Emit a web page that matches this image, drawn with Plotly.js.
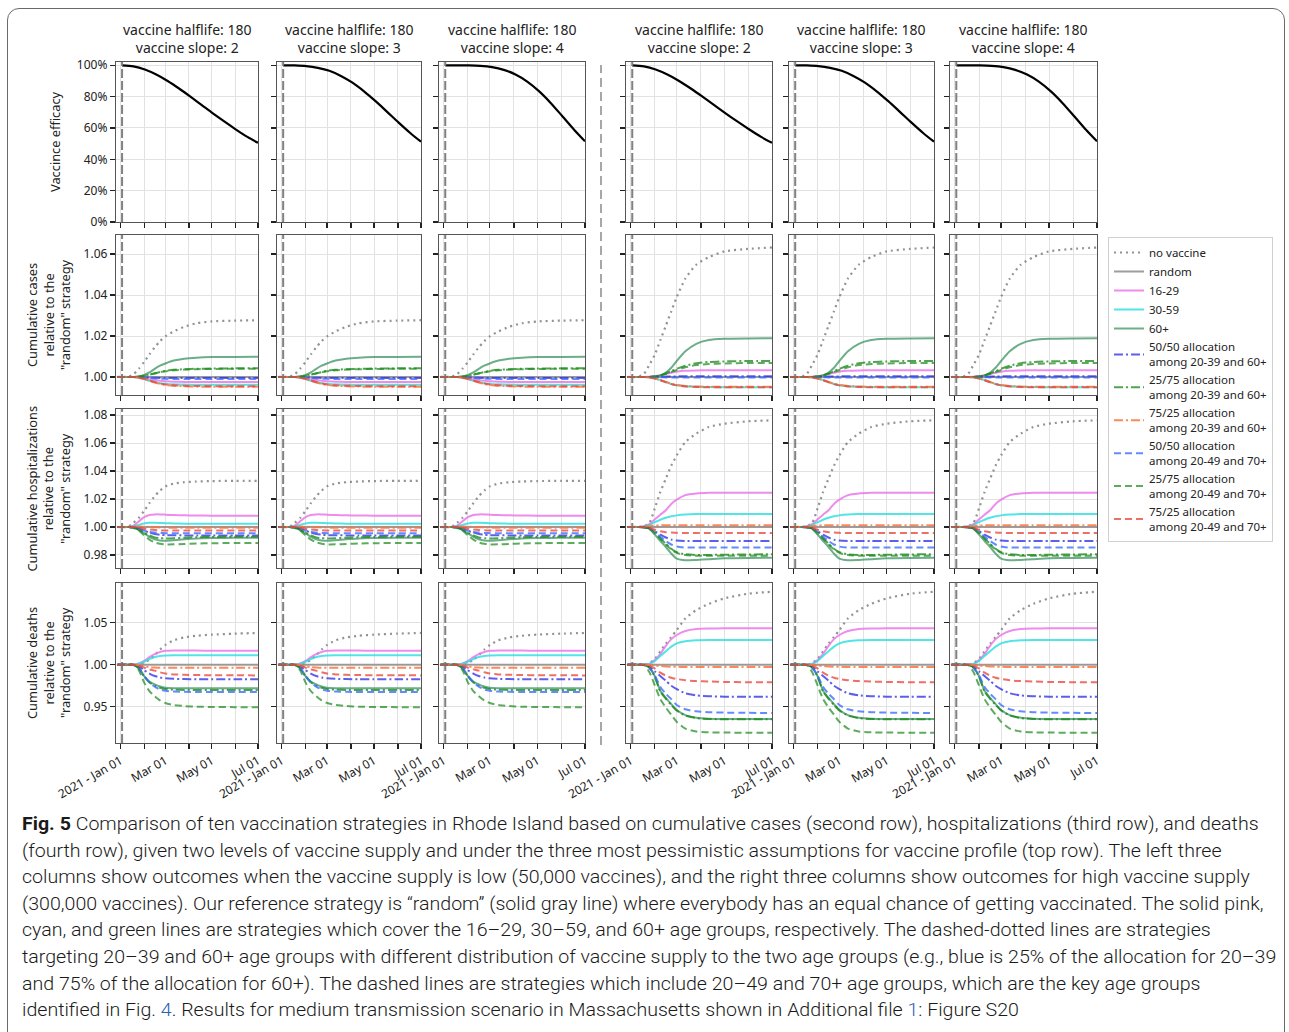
<!DOCTYPE html>
<html>
<head>
<meta charset="utf-8">
<script src="https://cdn.plot.ly/plotly-3.0.1.min.js"></script>
<style>
  html,body{margin:0;padding:0;background:#fff;}
  body{width:1289px;height:1032px;overflow:hidden;position:relative;}
  #plot{position:absolute;left:0;top:0;width:1289px;height:800px;}
  #frame{position:absolute;left:7px;top:8px;width:1276px;height:1060px;border:1px solid #6a6a6a;border-radius:12px;pointer-events:none;}
  #caption{position:absolute;left:22px;top:811px;font-family:Roboto,"Noto Sans",sans-serif;font-weight:300;font-size:19px;line-height:26.6px;color:#1a1a1a;white-space:nowrap;transform-origin:0 0;}
  #caption b{font-weight:700;}
  #caption .lnk{color:#2b5fb4;}
</style>
</head>
<body>
<div id="plot"></div>
<div id="frame"></div>
<div id="caption">
  <div class="ln"><b>Fig. 5</b> Comparison of ten vaccination strategies in Rhode Island based on cumulative cases (second row), hospitalizations (third row), and deaths</div>
  <div class="ln">(fourth row), given two levels of vaccine supply and under the three most pessimistic assumptions for vaccine profile (top row). The left three</div>
  <div class="ln">columns show outcomes when the vaccine supply is low (50,000 vaccines), and the right three columns show outcomes for high vaccine supply</div>
  <div class="ln">(300,000 vaccines). Our reference strategy is “random” (solid gray line) where everybody has an equal chance of getting vaccinated. The solid pink,</div>
  <div class="ln">cyan, and green lines are strategies which cover the 16–29, 30–59, and 60+ age groups, respectively. The dashed-dotted lines are strategies</div>
  <div class="ln" id="fitline">targeting 20–39 and 60+ age groups with different distribution of vaccine supply to the two age groups (e.g., blue is 25% of the allocation for 20–39</div>
  <div class="ln">and 75% of the allocation for 60+). The dashed lines are strategies which include 20–49 and 70+ age groups, which are the key age groups</div>
  <div class="ln">identified in Fig. <span class="lnk">4</span>. Results for medium transmission scenario in Massachusetts shown in Additional file <span class="lnk">1</span>: Figure S20</div>
</div>
<script>
// ---------------- DATA ----------------
const COL_SLOPES = [2, 3, 4, 2, 3, 4];
const HALFLIFE = 180;

// sample dates for outcome curves (rows 2-4)
const DATES = ['2020-12-28','2021-01-11','2021-01-18','2021-01-25','2021-02-01','2021-02-08','2021-02-15',
               '2021-02-22','2021-03-01','2021-03-12','2021-03-26','2021-04-11','2021-05-01','2021-05-31','2021-07-01'];

// vaccine efficacy (row 1)
const EFF_DATES = ['2021-01-03','2021-01-18','2021-02-02','2021-02-17','2021-03-04','2021-03-19','2021-04-03',
                   '2021-04-18','2021-05-03','2021-05-18','2021-06-02','2021-06-17','2021-07-01'];
const EFF_SLOPE2 = [1.000,0.993,0.973,0.941,0.900,0.852,0.800,0.746,0.692,0.640,0.590,0.543,0.505];
const EFF_SLOPE3 = [1.000,0.999,0.995,0.984,0.965,0.932,0.889,0.834,0.771,0.703,0.634,0.568,0.512];
const EFF_SLOPE4 = [1.000,1.000,0.999,0.996,0.988,0.971,0.941,0.896,0.835,0.760,0.675,0.589,0.515];

const SERIES_NAMES = ['no vaccine','random','16-29','30-59','60+',
  '50/50 allocation<br>among 20-39 and 60+','25/75 allocation<br>among 20-39 and 60+','75/25 allocation<br>among 20-39 and 60+',
  '50/50 allocation<br>among 20-49 and 70+','25/75 allocation<br>among 20-49 and 70+','75/25 allocation<br>among 20-49 and 70+'];

// order of each block: no vaccine, random, 16-29, 30-59, 60+, 50/50 A, 25/75 A, 75/25 A, 50/50 B, 25/75 B, 75/25 B
const CASES_LOW = [
  [1.0000,1.0002,1.0013,1.0040,1.0073,1.0110,1.0145,1.0175,1.0198,1.0222,1.0245,1.0262,1.0271,1.0275,1.0277],
  [1,1,1,1,1,1,1,1,1,1,1,1,1,1,1],
  [1,1,1,0.9998,0.9993,0.9988,0.9984,0.9981,0.9979,0.9977,0.9976,0.9976,0.9976,0.9976,0.9976],
  [1,1,1,0.9997,0.9990,0.9981,0.9975,0.9970,0.9967,0.9964,0.9963,0.9962,0.9962,0.9962,0.9962],
  [1,1,1,1.0002,1.0010,1.0022,1.0040,1.0055,1.0066,1.0080,1.0089,1.0094,1.0097,1.0098,1.0099],
  [1,1,1,0.9999,0.9998,0.9997,0.9996,0.9995,0.9995,0.9995,0.9995,0.9995,0.9995,0.9995,0.9995],
  [1,1,1,1.0002,1.0006,1.0012,1.0018,1.0024,1.0030,1.0035,1.0038,1.0040,1.0041,1.0042,1.0042],
  [1,1,1,0.9996,0.9990,0.9981,0.9973,0.9966,0.9961,0.9957,0.9955,0.9953,0.9952,0.9952,0.9952],
  [1,1,1,0.9999,0.9997,0.9995,0.9993,0.9992,0.9991,0.9990,0.9990,0.9990,0.9990,0.9990,0.9990],
  [1,1,1,1.0001,1.0005,1.0011,1.0017,1.0023,1.0028,1.0033,1.0036,1.0038,1.0039,1.0040,1.0040],
  [1,1,1,0.9997,0.9991,0.9983,0.9975,0.9968,0.9963,0.9959,0.9957,0.9956,0.9955,0.9955,0.9955]
];
const CASES_HIGH = [
  [1.0000,1.0001,1.0015,1.0060,1.0110,1.0180,1.0250,1.0320,1.0390,1.0480,1.0548,1.0585,1.0613,1.0625,1.0632],
  [1,1,1,1,1,1,1,1,1,1,1,1,1,1,1],
  [1,1,1,1.0001,1.0004,1.0009,1.0015,1.0021,1.0026,1.0030,1.0032,1.0033,1.0033,1.0033,1.0033],
  [1,1,1,0.9998,0.9993,0.9985,0.9975,0.9966,0.9960,0.9955,0.9952,0.9951,0.9950,0.9950,0.9950],
  [1,1,1,1.0000,1.0003,1.0008,1.0022,1.0045,1.0078,1.0125,1.0162,1.0180,1.0186,1.0188,1.0189],
  [1,1,1,1,1.0001,1.0001,1.0002,1.0002,1.0003,1.0003,1.0003,1.0003,1.0003,1.0003,1.0003],
  [1,1,1,1,1.0002,1.0008,1.0017,1.0028,1.0040,1.0055,1.0067,1.0073,1.0076,1.0078,1.0078],
  [1,1,1,0.9998,0.9993,0.9985,0.9976,0.9967,0.9961,0.9956,0.9953,0.9952,0.9952,0.9952,0.9952],
  [1,1,1,1,0.9999,0.9999,0.9998,0.9998,0.9998,0.9998,0.9998,0.9998,0.9998,0.9998,0.9998],
  [1,1,1,1,1.0002,1.0007,1.0015,1.0024,1.0034,1.0047,1.0058,1.0063,1.0066,1.0068,1.0068],
  [1,1,1,0.9998,0.9992,0.9984,0.9974,0.9965,0.9959,0.9954,0.9951,0.9950,0.9950,0.9950,0.9950]
];
const HOSP_LOW = [
  [1.0000,1.0001,1.0030,1.0065,1.0115,1.0170,1.0220,1.0260,1.0290,1.0310,1.0320,1.0325,1.0328,1.0330,1.0330],
  [1,1,1,1,1,1,1,1,1,1,1,1,1,1,1],
  [1,1,1.0010,1.0040,1.0070,1.0085,1.0090,1.0090,1.0088,1.0085,1.0083,1.0082,1.0081,1.0081,1.0081],
  [1,1,1.0005,1.0015,1.0025,1.0030,1.0030,1.0029,1.0027,1.0025,1.0024,1.0024,1.0024,1.0024,1.0024],
  [1,1,0.9995,0.9980,0.9955,0.9930,0.9912,0.9903,0.9901,0.9905,0.9912,0.9918,0.9921,0.9923,0.9924],
  [1,1,0.9997,0.9990,0.9975,0.9960,0.9950,0.9945,0.9942,0.9941,0.9940,0.9940,0.9940,0.9940,0.9940],
  [1,1,0.9995,0.9980,0.9960,0.9940,0.9925,0.9920,0.9918,0.9920,0.9924,0.9927,0.9929,0.9930,0.9930],
  [1,1,1.0003,1.0004,1.0002,1.0000,0.9998,0.9997,0.9996,0.9995,0.9995,0.9995,0.9995,0.9995,0.9995],
  [1,1,0.9997,0.9988,0.9975,0.9965,0.9960,0.9957,0.9956,0.9955,0.9955,0.9955,0.9955,0.9955,0.9955],
  [1,1,0.9993,0.9975,0.9940,0.9910,0.9890,0.9880,0.9876,0.9876,0.9879,0.9882,0.9884,0.9886,0.9886],
  [1,1,1.0000,0.9995,0.9988,0.9982,0.9978,0.9976,0.9975,0.9975,0.9975,0.9975,0.9975,0.9975,0.9975]
];
const HOSP_HIGH = [
  [1.0000,1.0001,1.0005,1.0030,1.0135,1.0250,1.0345,1.0438,1.0512,1.0607,1.0667,1.0714,1.0738,1.0755,1.0762],
  [1,1,1,1,1,1,1,1,1,1,1,1,1,1,1],
  [1,1,1.0005,1.0020,1.0055,1.0088,1.0120,1.0165,1.0195,1.0228,1.0240,1.0244,1.0245,1.0245,1.0245],
  [1,1,1.0003,1.0015,1.0035,1.0052,1.0066,1.0076,1.0083,1.0089,1.0092,1.0093,1.0093,1.0093,1.0093],
  [1,1,0.9998,0.9988,0.9945,0.9900,0.9857,0.9810,0.9774,0.9762,0.9765,0.9770,0.9776,0.9779,0.9780],
  [1,1,0.9998,0.9990,0.9970,0.9945,0.9925,0.9910,0.9903,0.9900,0.9900,0.9900,0.9900,0.9900,0.9900],
  [1,1,0.9998,0.9990,0.9960,0.9920,0.9880,0.9845,0.9820,0.9805,0.9800,0.9800,0.9802,0.9804,0.9805],
  [1,1,1.0002,1.0006,1.0010,1.0012,1.0012,1.0012,1.0012,1.0012,1.0012,1.0012,1.0012,1.0012,1.0012],
  [1,1,0.9998,0.9990,0.9965,0.9930,0.9900,0.9875,0.9860,0.9853,0.9853,0.9853,0.9853,0.9853,0.9853],
  [1,1,0.9997,0.9985,0.9955,0.9915,0.9875,0.9840,0.9815,0.9800,0.9795,0.9795,0.9795,0.9795,0.9795],
  [1,1,0.9999,0.9993,0.9980,0.9970,0.9963,0.9960,0.9958,0.9957,0.9957,0.9957,0.9957,0.9957,0.9957]
];
const DEATHS_LOW = [
  [1,1,1,1.0005,1.0020,1.0060,1.0115,1.0180,1.0235,1.0290,1.0325,1.0345,1.0358,1.0370,1.0378],
  [1,1,1,1,1,1,1,1,1,1,1,1,1,1,1],
  [1,1,1,1.0015,1.0045,1.0090,1.0127,1.0152,1.0165,1.0170,1.0170,1.0168,1.0167,1.0167,1.0167],
  [1,1,1,1.0010,1.0035,1.0068,1.0092,1.0105,1.0110,1.0112,1.0112,1.0112,1.0112,1.0112,1.0112],
  [1,1,1,0.9960,0.9865,0.9800,0.9765,0.9740,0.9725,0.9720,0.9719,0.9719,0.9719,0.9719,0.9719],
  [1,1,1,0.9980,0.9935,0.9895,0.9865,0.9848,0.9838,0.9832,0.9829,0.9827,0.9826,0.9826,0.9826],
  [1,1,1,0.9958,0.9860,0.9790,0.9750,0.9725,0.9710,0.9703,0.9700,0.9700,0.9700,0.9700,0.9700],
  [1,1,1,0.9995,0.9980,0.9970,0.9966,0.9964,0.9964,0.9964,0.9964,0.9964,0.9964,0.9964,0.9964],
  [1,1,1,0.9960,0.9870,0.9790,0.9740,0.9705,0.9690,0.9680,0.9677,0.9676,0.9675,0.9675,0.9675],
  [1,1,1,0.9935,0.9790,0.9685,0.9625,0.9575,0.9545,0.9520,0.9508,0.9500,0.9497,0.9495,0.9493],
  [1,1,1,0.9990,0.9965,0.9945,0.9930,0.9910,0.9895,0.9885,0.9880,0.9877,0.9875,0.9874,0.9873]
];
const DEATHS_HIGH = [
  [1,1,1,1.0020,1.0070,1.0160,1.0250,1.0330,1.0413,1.0552,1.0650,1.0725,1.0790,1.0845,1.0869],
  [1,1,1,1,1,1,1,1,1,1,1,1,1,1,1],
  [1,1,1,1.0010,1.0055,1.0130,1.0225,1.0305,1.0354,1.0401,1.0425,1.0431,1.0433,1.0433,1.0433],
  [1,1,1,1.0010,1.0045,1.0105,1.0160,1.0215,1.0255,1.0280,1.0290,1.0293,1.0294,1.0294,1.0294],
  [1,1,1,0.9970,0.9860,0.9690,0.9605,0.9530,0.9460,0.9400,0.9370,0.9358,0.9355,0.9354,0.9354],
  [1,1,1,0.9975,0.9920,0.9865,0.9810,0.9750,0.9710,0.9660,0.9635,0.9625,0.9620,0.9619,0.9619],
  [1,1,1,0.9968,0.9855,0.9680,0.9595,0.9522,0.9455,0.9395,0.9365,0.9354,0.9351,0.9350,0.9350],
  [1,1,1,0.9997,0.9990,0.9985,0.9980,0.9977,0.9975,0.9973,0.9972,0.9972,0.9972,0.9972,0.9972],
  [1,1,1,0.9960,0.9870,0.9735,0.9655,0.9590,0.9520,0.9469,0.9445,0.9435,0.9430,0.9427,0.9425],
  [1,1,0.9995,0.9910,0.9750,0.9590,0.9490,0.9405,0.9320,0.9240,0.9205,0.9195,0.9192,0.9191,0.9190],
  [1,1,1,0.9985,0.9955,0.9905,0.9870,0.9845,0.9830,0.9815,0.9805,0.9800,0.9795,0.9792,0.9790]
];

const X_TICKVALS = ['2021-01-01','2021-02-01','2021-03-01','2021-04-01','2021-05-01','2021-06-01','2021-07-01'];
const X_TICKTEXT = ['2021 - Jan 01','','Mar 01','','May 01','','Jul 01'];
const VACCINE_START = '2021-01-03';

const ROW_TITLES = ['Vaccince efficacy',
  'Cumulative cases<br>relative to the<br>"random" strategy',
  'Cumulative hospitalizations<br>relative to the<br>"random" strategy',
  'Cumulative deaths<br>relative to the<br>"random" strategy'];
const Y_TICKS = [[0,0.2,0.4,0.6,0.8,1.0],[1.00,1.02,1.04,1.06],[0.98,1.00,1.02,1.04,1.06,1.08],[0.95,1.00,1.05]];

// ---------------- STYLE ----------------
const SERIES_COLORS = ['rgba(128,128,128,0.85)','rgba(140,140,140,0.85)','rgba(235,120,235,0.85)','rgba(40,222,222,0.8)',
  'rgba(46,139,87,0.7)','rgba(40,40,230,0.75)','rgba(20,135,20,0.75)','rgba(255,115,60,0.85)',
  'rgba(60,110,255,0.8)','rgba(30,140,30,0.72)','rgba(235,70,60,0.78)'];
const SERIES_DASH = ['2px,4px','solid','solid','solid','solid','9px,3px,2px,3px','9px,3px,2px,3px','9px,3px,2px,3px','7px,4px','7px,4px','7px,4px'];
const SERIES_WIDTH = [2.2,2,2,2,2,2,2,2,2,2,2];

const FONT = '"Noto Sans","Open Sans",sans-serif';
const W = 1289, H = 800;
const COLS_PX = [[116,258],[277,421],[439,585],[626,772],[789,934],[950,1097]];
const ROWS_PX = [[62,222],[235,395],[409,568],[583,743]];
const Y_RANGES = [[0,1.021],[0.9912,1.0693],[0.9707,1.0843],[0.9068,1.0973]];
const X_RANGE = ['2020-12-26','2021-07-01'];

const ROW_DATA = [null,[CASES_LOW,CASES_HIGH],[HOSP_LOW,HOSP_HIGH],[DEATHS_LOW,DEATHS_HIGH]];
const EFF = [EFF_SLOPE2,EFF_SLOPE3,EFF_SLOPE4];

const traces = [];
const layout = {
  width: W, height: H, margin:{l:0,r:0,t:0,b:0},
  paper_bgcolor:'rgba(0,0,0,0)', plot_bgcolor:'#ffffff',
  font:{family:FONT,size:11,color:'#222'},
  showlegend:true,
  legend:{x:1108/W, y:1-237/H, xanchor:'left', yanchor:'top', bgcolor:'#fff', bordercolor:'#d0d0d0', borderwidth:1,
          font:{family:FONT,size:11.5,color:'#222'}, itemwidth:30, tracegroupgap:0},
  annotations:[], shapes:[]
};

function axName(k){ return k===1 ? '' : String(k); }

for (let r=0;r<4;r++){
  for (let c=0;c<6;c++){
    const k = r*6+c+1;
    const xa = 'x'+axName(k), ya = 'y'+axName(k);
    layout['xaxis'+axName(k)] = {
      domain:[COLS_PX[c][0]/W, COLS_PX[c][1]/W], anchor:ya, type:'date', range:X_RANGE,
      tickmode:'array', tickvals:X_TICKVALS, ticktext:X_TICKTEXT, showticklabels:r===3, tickangle:-30,
      ticks:'outside', ticklen:5, tickwidth:1.2, tickcolor:'#222', showline:true, mirror:true, linecolor:'#555', linewidth:1.2,
      showgrid:true, gridcolor:'#e2e2e2', gridwidth:1, zeroline:false, tickfont:{size:12,color:'#222'}
    };
    layout['yaxis'+axName(k)] = {
      domain:[1-ROWS_PX[r][1]/H, 1-ROWS_PX[r][0]/H], anchor:xa, range:Y_RANGES[r],
      tickmode:'array', tickvals:Y_TICKS[r], tickformat: r===0 ? '.0%' : '.2f', showticklabels:c===0,
      ticks:'outside', ticklen:5, tickwidth:1.2, tickcolor:'#222', showline:true, mirror:true, linecolor:'#555', linewidth:1.2,
      showgrid:true, gridcolor:'#e2e2e2', gridwidth:1, zeroline:false, tickfont:{size:12,color:'#222'}
    };
    // vaccination start line
    layout.shapes.push({type:'line', xref:xa, yref:ya+' domain', x0:VACCINE_START, x1:VACCINE_START, y0:0, y1:1,
      line:{color:'rgba(115,115,115,0.9)', width:2, dash:'9px,3px'}, layer:'above'});
    if (r===0){
      traces.push({type:'scatter', mode:'lines', x:EFF_DATES, y:EFF[c%3], xaxis:xa, yaxis:ya, showlegend:false,
        line:{color:'#000', width:2.2, shape:'spline', smoothing:0.8}, hoverinfo:'skip'});
    } else {
      const block = ROW_DATA[r][c<3?0:1];
      for (let s=0;s<SERIES_NAMES.length;s++){
        traces.push({type:'scatter', mode:'lines', x:DATES, y:block[s], xaxis:xa, yaxis:ya,
          name:SERIES_NAMES[s], legendgroup:'s'+s, showlegend:(r===1 && c===0),
          line:{color:SERIES_COLORS[s], width:SERIES_WIDTH[s], dash:SERIES_DASH[s], shape:'spline', smoothing:0.6},
          hoverinfo:'skip'});
      }
    }
  }
}

// column titles
for (let c=0;c<6;c++){
  layout.annotations.push({xref:'paper', yref:'paper', x:(COLS_PX[c][0]+COLS_PX[c][1])/2/W, y:1-39/H,
    xanchor:'center', yanchor:'middle', showarrow:false,
    text:'vaccine halflife: '+HALFLIFE+'<br>vaccine slope: '+COL_SLOPES[c], font:{family:FONT,size:14,color:'#222'}});
}
// row titles
const ROW_TITLE_X = [55,48,48,48];
for (let r=0;r<4;r++){
  layout.annotations.push({xref:'paper', yref:'paper', x:ROW_TITLE_X[r]/W, y:1-((ROWS_PX[r][0]+ROWS_PX[r][1])/2)/H,
    xanchor:'center', yanchor:'middle', showarrow:false, textangle:-90,
    text:ROW_TITLES[r], font:{family:FONT,size:12.8,color:'#222'}});
}
// separator between low and high supply
layout.shapes.push({type:'line', xref:'paper', yref:'paper', x0:601/W, x1:601/W, y0:1-745/H, y1:1-65/H,
  line:{color:'#8a8a8a', width:1.5, dash:'9px,5px'}});

Plotly.newPlot('plot', traces, layout, {displayModeBar:false, staticPlot:true});

// fit caption width to the reference text block
function fitCaption(){
  const cap = document.getElementById('caption');
  const ln = document.getElementById('fitline');
  const w = ln.scrollWidth;
  if (w>0){ cap.style.transform = 'scaleX(' + (1254/w) + ')'; }
}
if (document.fonts && document.fonts.ready){ document.fonts.ready.then(fitCaption); } else { fitCaption(); }
</script>
</body>
</html>
